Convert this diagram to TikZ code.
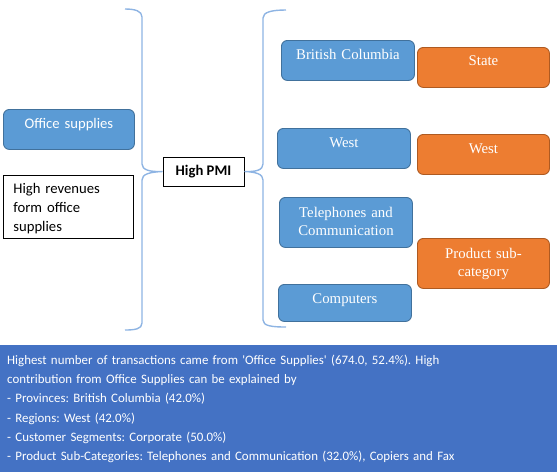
\documentclass[tikz,border=0pt]{standalone}
\usepackage{fontspec}
\setmainfont{Liberation Serif}
\newfontfamily\calibri{Carlito}
\definecolor{boxblue}{HTML}{5B9BD5}
\definecolor{boxblueline}{HTML}{41719C}
\definecolor{boxorange}{HTML}{ED7D31}
\definecolor{boxorangeline}{HTML}{AE5A21}
\definecolor{bracecol}{HTML}{8EB4E3}
\definecolor{bandblue}{HTML}{4472C4}
\frenchspacing
\begin{document}
\begin{tikzpicture}[x=1pt,y=-1pt,
  rbox/.style={rounded corners=6pt, line width=0.9pt, inner xsep=0pt, inner ysep=0pt,
    anchor=north west, align=center, text=white},
  bluebox/.style={rbox, fill=boxblue, draw=boxblueline, text width=133pt,
    font=\fontsize{14.8}{18}\selectfont},
  orangebox/.style={rbox, fill=boxorange, draw=boxorangeline, text width=132pt,
    font=\fontsize{14.8}{18}\selectfont},
  brace/.style={draw=bracecol, line width=1.4pt},
  plainbox/.style={draw=black, line width=0.8pt, fill=white, inner sep=0pt}
]
\useasboundingbox (0,0) rectangle (557,472);

% left side
\node[rbox, fill=boxblue, draw=boxblueline, text width=131pt,
  font=\calibri\fontsize{14.67}{18}\selectfont,
  text height=19pt, text depth=21pt] (office) at (3,109) {Office supplies};
\node[plainbox, anchor=north west, inner xsep=10pt, text width=110pt, align=left,
  font=\calibri\fontsize{14.67}{19}\selectfont,
  text height=18pt, text depth=45pt] (rev) at (3,175) {High revenues\\form office\\supplies};

% centre
\node[plainbox, minimum width=81pt, minimum height=29pt,
  font=\calibri\bfseries\fontsize{14.67}{18}\selectfont] (pmi) at (203.5,171.5) {High PMI};

% braces
\draw[brace] (125,9) .. controls (135,9) and (142,11) .. (142,17) -- (142,164)
  .. controls (142,170) and (150,172) .. (pmi.west)
  .. controls (150,172) and (142,174) .. (142,180) -- (142,323)
  .. controls (142,329) and (135,330) .. (125,330);
\draw[brace] (286,10) .. controls (272,10) and (263,12) .. (263,18) -- (263,164)
  .. controls (263,170) and (256,172) .. (pmi.east)
  .. controls (256,172) and (263,174) .. (263,180) -- (263,320)
  .. controls (263,326) and (272,327) .. (286,327);

% right side blue
\node[bluebox, text height=19pt, text depth=21pt] (bc) at (281,40) {British Columbia};
\node[bluebox, text height=19pt, text depth=21pt] (westb) at (277,128) {West};
\node[bluebox, text height=20pt, text depth=30pt] (tel) at (279,197) {Telephones and\\Communication};
\node[bluebox, text height=19pt, text depth=18pt] (comp) at (278,284) {Computers};

% right side orange
\node[orangebox, text height=18pt, text depth=22pt] (state) at (417,47) {State};
\node[orangebox, text height=19pt, text depth=21pt] (westo) at (417,134) {West};
\node[orangebox, text height=20pt, text depth=30pt] (prod) at (417,238) {Product sub-\\category};

% bottom band
\node[fill=bandblue, anchor=north west, minimum width=557pt, minimum height=127pt, inner sep=0pt] (band) at (0,345) {};
\node[anchor=north west, inner sep=0pt, text width=545pt, align=left, text=white,
  font=\calibri\fontsize{12.9}{19.3}\selectfont, text height=19pt] (summary) at (7,345)
  {Highest number of transactions came from 'Office Supplies' (674.0, 52.4\%). High\\
   contribution from Office Supplies can be explained by\\
   - Provinces: British Columbia (42.0\%)\\
   - Regions: West (42.0\%)\\
   - Customer Segments: Corporate (50.0\%)\\
   - Product Sub-Categories: Telephones and Communication (32.0\%), Copiers and Fax};
\end{tikzpicture}
\end{document}
